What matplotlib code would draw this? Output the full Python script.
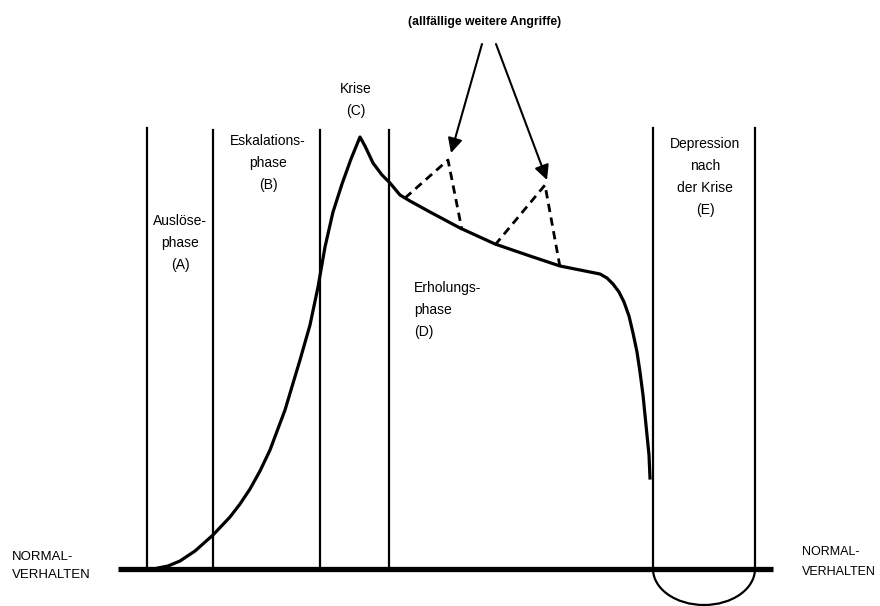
import matplotlib.pyplot as plt
from matplotlib.patches import Arc

plt.rcParams['font.family'] = ['Liberation Sans', 'DejaVu Sans']

# diagram drawn in pixel units of the original sketch (y grows downward)
phase_x = [147, 213, 320, 389, 653, 755]
phase_top = [128, 130, 130, 130, 128, 128]
base_y = 569
base_x = [118, 773]

curve_x = [158, 168, 180, 195, 213, 230, 240, 250, 260, 270, 285, 300, 310, 318,
           325, 333, 342, 351, 360,
           365, 373, 382, 390, 400, 410, 430, 460, 495, 530, 560, 585, 600, 607,
           613, 619, 624, 629, 633, 637, 640, 643, 645, 647, 649, 650]
curve_y = [568, 566, 561, 551, 535, 517, 504, 489, 471, 450, 410, 360, 325, 287,
           247, 212, 184, 159, 137,
           146, 163, 175, 183, 195, 201, 212, 228, 244, 256, 266, 271, 274, 278,
           284, 292, 302, 316, 333, 352, 372, 395, 415, 435, 455, 478]

attack1_x = [405, 448, 462]
attack1_y = [198, 160, 230]
attack2_x = [495, 545, 560]
attack2_y = [245, 185, 267]

labels = {
    'Krise\n(C)': (356, 100, 'center'),
    'Eskalations-\nphase\n(B)': (268, 163, 'center'),
    'Auslöse-\nphase\n(A)': (180, 243, 'center'),
    'Erholungs-\nphase\n(D)': (414, 310, 'left'),
    'Depression\nnach\nder Krise\n(E)': (705, 177, 'center'),
}

fig = plt.figure(figsize=(8.8, 6.06), dpi=100)
ax = fig.add_axes([0, 0, 1, 1])
ax.set_xlim(0, 880)
ax.set_ylim(606, 0)
ax.axis('off')

ax.plot(base_x, [base_y, base_y], color='black', lw=3.8, solid_capstyle='butt')
for x, top in zip(phase_x, phase_top):
    ax.plot([x, x], [top, base_y], color='black', lw=1.6)

ax.plot(curve_x, curve_y, color='black', lw=2.3, solid_joinstyle='round')
ax.plot(attack1_x, attack1_y, color='black', lw=2.0, ls=(0, (3, 2)))
ax.plot(attack2_x, attack2_y, color='black', lw=2.0, ls=(0, (3, 2)))

# depression dip below the baseline (y axis is inverted)
ax.add_patch(Arc((704, base_y), 102, 72, theta1=0, theta2=180,
                 color='black', lw=1.6))

ax.text(485, 22, '(allfällige weitere Angriffe)', ha='center', va='center',
        fontsize=8.8, fontweight='bold')
for start, tip in [((482, 44), (451, 153)), ((496, 44), (547, 180))]:
    ax.annotate('', xy=tip, xytext=start,
                arrowprops=dict(arrowstyle='-|>', color='black', lw=1.5,
                                mutation_scale=22, shrinkA=0, shrinkB=0))

for txt, (x, y, ha) in labels.items():
    ax.text(x, y, txt, ha=ha, va='center', fontsize=10, linespacing=1.75)
ax.text(12, 566, 'NORMAL-\nVERHALTEN', ha='left', va='center', fontsize=9.5,
        linespacing=1.75)
ax.text(802, 562, 'NORMAL-\nVERHALTEN', ha='left', va='center', fontsize=9,
        linespacing=1.9)

fig.savefig('out.png', dpi=100)
